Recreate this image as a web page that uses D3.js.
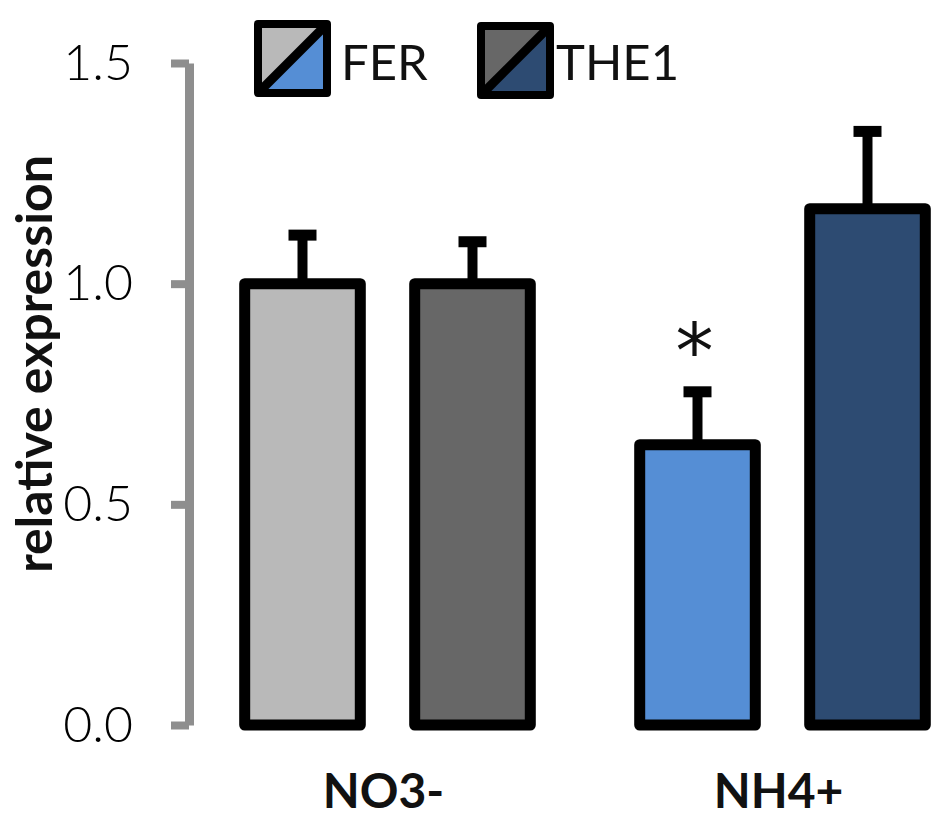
<!DOCTYPE html>
<html>
<head>
<meta charset="utf-8">
<script src="https://cdn.jsdelivr.net/npm/d3@7"></script>
<style>
  body { margin: 0; background: #fff; }
  svg { display: block; font-family: Lato, 'Open Sans', sans-serif; }
</style>
</head>
<body>
<svg id="chart"></svg>
<script>
// data
const conditions = ['NO3-', 'NH4+']
const series = ['FER', 'THE1']
const means = {
    'FER': [1.0, 0.635],
    'THE1': [1.0, 1.17]
}
const errors = {
    'FER': [0.11, 0.12],
    'THE1': [0.095, 0.175]
}
const significant = {
    'FER': [false, true],
    'THE1': [false, false]
}
const yTicks = [0, 0.5, 1.0, 1.5]

// fill per series, one per condition
const fills = {
    'FER': ['#b9b9b9', '#558ed5'],
    'THE1': ['#676767', '#2d4b72']
}

const width = 950, height = 836

const svg = d3.select('#chart')
    .attr('width', width)
    .attr('height', height)

const y = d3.scaleLinear()
    .domain([0, 1.5])
    .range([725, 63])

const x0 = d3.scaleBand()
    .domain(conditions)
    .range([190, 980])

const x1 = d3.scaleBand()
    .domain(series)
    .range([27.5, 367.5])

const barW = x1.bandwidth() * 0.68

// y axis
const yAxis = svg.append('g')
    .attr('transform', 'translate(189,0)')
    .call(d3.axisLeft(y)
        .tickValues(yTicks)
        .tickFormat(d3.format('.1f'))
        .tickSize(18)
        .tickSizeOuter(0)
        .tickPadding(38))

yAxis.select('.domain')
    .attr('stroke', '#8e8e8e')
    .attr('stroke-width', 9)

yAxis.selectAll('.tick line')
    .attr('stroke', '#8e8e8e')
    .attr('stroke-width', 8)

yAxis.selectAll('.tick text')
    .attr('fill', '#000')
    .attr('font-size', 50)
    .attr('font-weight', 300)
    .attr('font-family', 'Lato, sans-serif')

svg.append('text')
    .attr('transform', 'translate(52,364) rotate(-90)')
    .attr('text-anchor', 'middle')
    .attr('font-size', 50)
    .attr('font-weight', 'bold')
    .attr('fill', '#111')
    .text('relative expression')

// bars
const rows = []
conditions.forEach((c, ci) => {
    series.forEach(s => {
        rows.push({ cond: c, ci: ci, ser: s, v: means[s][ci], e: errors[s][ci], sig: significant[s][ci], fill: fills[s][ci] })
    })
})

const cx = d => x0(d.cond) + x1(d.ser) + x1.bandwidth() / 2

const groups = svg.append('g')
    .selectAll('g')
    .data(rows)
    .join('g')

// error bars behind the bar outline
groups.append('line')
    .attr('x1', cx)
    .attr('x2', cx)
    .attr('y1', d => y(d.v))
    .attr('y2', d => y(d.v + d.e))
    .attr('stroke', '#000')
    .attr('stroke-width', 10)

groups.append('line')
    .attr('x1', d => cx(d) - 14)
    .attr('x2', d => cx(d) + 14)
    .attr('y1', d => y(d.v + d.e))
    .attr('y2', d => y(d.v + d.e))
    .attr('stroke', '#000')
    .attr('stroke-width', 11)

groups.append('rect')
    .attr('x', d => cx(d) - barW / 2)
    .attr('width', barW)
    .attr('y', d => y(d.v))
    .attr('height', d => y(0) - y(d.v))
    .attr('fill', d => d.fill)
    .attr('stroke', '#000')
    .attr('stroke-width', 11)
    .attr('stroke-linejoin', 'round')

groups.filter(d => d.sig)
    .append('text')
    .attr('x', d => cx(d) - 3)
    .attr('y', d => y(d.v + d.e) - 14)
    .attr('text-anchor', 'middle')
    .attr('font-family', 'DejaVu Sans, sans-serif')
    .attr('font-size', 76)
    .attr('fill', '#111')
    .text('*')

// category labels
svg.append('g')
    .selectAll('text')
    .data(conditions)
    .join('text')
    .attr('x', d => x0(d) + x0.bandwidth() / 2 - 4)
    .attr('y', 808)
    .attr('text-anchor', 'middle')
    .attr('font-size', 48)
    .attr('font-weight', 'bold')
    .attr('fill', '#111')
    .text(d => d)

// legend: split swatch, upper-left = NO3- colour, lower-right = NH4+ colour
const legendX = [258, 481]
const legendGap = [14, 6]
const sw = 69

const legend = svg.append('g')
    .selectAll('g')
    .data(series)
    .join('g')
    .attr('transform', (d, i) => `translate(${legendX[i]},${24 + i * 2})`)

legend.append('path')
    .attr('d', `M0,0H${sw}L0,${sw}Z`)
    .attr('fill', d => fills[d][0])

legend.append('path')
    .attr('d', `M${sw},0V${sw}H0Z`)
    .attr('fill', d => fills[d][1])

legend.append('line')
    .attr('x1', 0)
    .attr('y1', sw)
    .attr('x2', sw)
    .attr('y2', 0)
    .attr('stroke', '#000')
    .attr('stroke-width', 9)

legend.append('rect')
    .attr('width', sw)
    .attr('height', sw)
    .attr('fill', 'none')
    .attr('stroke', '#000')
    .attr('stroke-width', 8)
    .attr('stroke-linejoin', 'round')

legend.append('text')
    .attr('x', (d, i) => sw + legendGap[i])
    .attr('y', (d, i) => 56 - i * 2)
    .attr('font-size', 49)
    .attr('fill', '#111')
    .text(d => d)
</script>
</body>
</html>
